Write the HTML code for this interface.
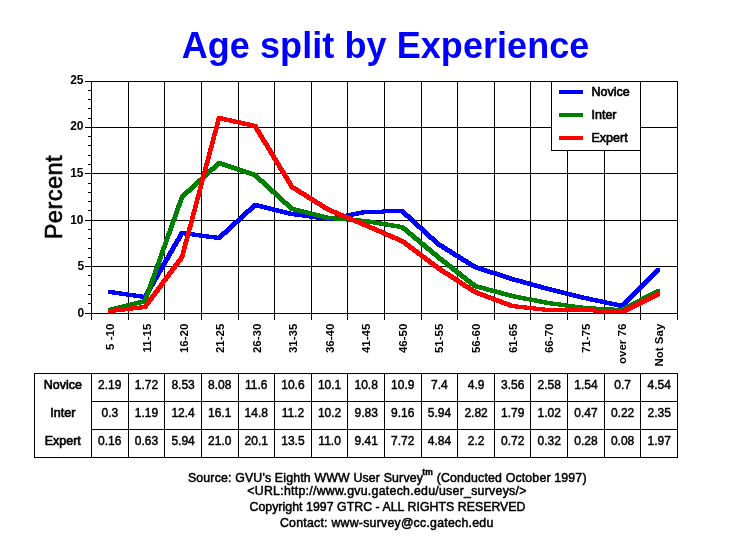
<!DOCTYPE html>
<html><head><meta charset="utf-8"><title>Age split by Experience</title>
<style>
html,body{margin:0;padding:0;background:#fff;}
svg{display:block;}
text{font-family:"Liberation Sans",Arial,sans-serif;fill:#000;}
.g{stroke:#000;stroke-width:1;shape-rendering:crispEdges;fill:none;}
.t{font-size:12px;text-anchor:middle;stroke:#000;stroke-width:0.45px;}
.tl{font-size:12.5px;text-anchor:middle;stroke:#000;stroke-width:0.65px;}
.x{font-size:11.5px;text-anchor:end;font-weight:bold;}
.y{font-size:12px;text-anchor:end;font-weight:bold;}
.lg{font-size:12.5px;stroke:#000;stroke-width:0.65px;}
.f{font-size:12.3px;text-anchor:middle;stroke:#000;stroke-width:0.5px;}
</style></head><body>
<svg width="729" height="553" viewBox="0 0 729 553">
<rect x="0" y="0" width="729" height="553" fill="#fff"/>
<text x="385.6" y="58" style="font-size:36px;font-weight:bold;fill:#00f;text-anchor:middle;letter-spacing:0.07px" id="title">Age split by Experience</text>
<path class="g" d="M91.5 81V320 M128.5 81V320 M164.5 81V320 M201.5 81V320 M238.5 81V320 M274.5 81V320 M311.5 81V320 M347.5 81V320 M384.5 81V320 M421.5 81V320 M457.5 81V320 M494.5 81V320 M530.5 81V320 M567.5 81V320 M604.5 81V320 M640.5 81V320 M677.5 81V320 M85 313.5H678 M85 266.5H678 M85 220.5H678 M85 173.5H678 M85 127.5H678 M85 81.5H678 M88 303.5H91 M88 294.5H91 M88 285.5H91 M88 275.5H91 M88 257.5H91 M88 248.5H91 M88 238.5H91 M88 229.5H91 M88 210.5H91 M88 201.5H91 M88 192.5H91 M88 183.5H91 M88 164.5H91 M88 155.5H91 M88 145.5H91 M88 136.5H91 M88 118.5H91 M88 108.5H91 M88 99.5H91 M88 90.5H91"/>
<path d="M253 203h6v1h-6zM252 204h11v1h-11zM251 205h16v1h-16zM250 206h21v1h-21zM249 207h26v1h-26zM248 208h7v1h-7zM260 208h19v1h-19zM246 209h8v1h-8zM264 209h19v1h-19zM382 209h22v1h-22zM245 210h8v1h-8zM268 210h19v1h-19zM361 210h44v1h-44zM244 211h8v1h-8zM272 211h19v1h-19zM356 211h50v1h-50zM243 212h8v1h-8zM276 212h21v1h-21zM351 212h56v1h-56zM242 213h7v1h-7zM280 213h25v1h-25zM346 213h39v1h-39zM401 213h7v1h-7zM241 214h7v1h-7zM284 214h28v1h-28zM340 214h24v1h-24zM402 214h8v1h-8zM240 215h7v1h-7zM288 215h31v1h-31zM335 215h24v1h-24zM403 215h8v1h-8zM239 216h7v1h-7zM294 216h33v1h-33zM330 216h24v1h-24zM404 216h8v1h-8zM238 217h7v1h-7zM302 217h47v1h-47zM405 217h8v1h-8zM237 218h7v1h-7zM309 218h34v1h-34zM407 218h7v1h-7zM236 219h7v1h-7zM316 219h22v1h-22zM408 219h7v1h-7zM234 220h8v1h-8zM324 220h9v1h-9zM409 220h7v1h-7zM233 221h8v1h-8zM410 221h7v1h-7zM232 222h8v1h-8zM411 222h7v1h-7zM231 223h8v1h-8zM412 223h7v1h-7zM230 224h7v1h-7zM413 224h7v1h-7zM229 225h7v1h-7zM414 225h8v1h-8zM228 226h7v1h-7zM415 226h8v1h-8zM227 227h7v1h-7zM416 227h8v1h-8zM226 228h7v1h-7zM417 228h8v1h-8zM225 229h7v1h-7zM419 229h7v1h-7zM224 230h7v1h-7zM420 230h7v1h-7zM180 231h7v1h-7zM222 231h8v1h-8zM421 231h7v1h-7zM179 232h16v1h-16zM221 232h8v1h-8zM422 232h7v1h-7zM179 233h23v1h-23zM220 233h8v1h-8zM423 233h7v1h-7zM178 234h31v1h-31zM219 234h8v1h-8zM424 234h7v1h-7zM178 235h5v1h-5zM184 235h33v1h-33zM218 235h7v1h-7zM425 235h7v1h-7zM177 236h6v1h-6zM192 236h32v1h-32zM426 236h8v1h-8zM177 237h5v1h-5zM199 237h24v1h-24zM427 237h8v1h-8zM176 238h6v1h-6zM206 238h16v1h-16zM428 238h8v1h-8zM175 239h6v1h-6zM214 239h7v1h-7zM429 239h8v1h-8zM175 240h6v1h-6zM431 240h7v1h-7zM174 241h6v1h-6zM432 241h7v1h-7zM174 242h5v1h-5zM433 242h7v1h-7zM173 243h6v1h-6zM434 243h8v1h-8zM172 244h6v1h-6zM435 244h9v1h-9zM172 245h6v1h-6zM436 245h9v1h-9zM171 246h6v1h-6zM437 246h10v1h-10zM171 247h5v1h-5zM439 247h9v1h-9zM170 248h6v1h-6zM441 248h9v1h-9zM170 249h5v1h-5zM442 249h10v1h-10zM169 250h6v1h-6zM444 250h9v1h-9zM168 251h6v1h-6zM445 251h10v1h-10zM168 252h6v1h-6zM447 252h9v1h-9zM167 253h6v1h-6zM449 253h9v1h-9zM167 254h5v1h-5zM450 254h10v1h-10zM166 255h6v1h-6zM452 255h9v1h-9zM166 256h5v1h-5zM453 256h10v1h-10zM165 257h6v1h-6zM455 257h9v1h-9zM164 258h6v1h-6zM457 258h9v1h-9zM164 259h6v1h-6zM458 259h10v1h-10zM163 260h6v1h-6zM460 260h9v1h-9zM163 261h5v1h-5zM461 261h10v1h-10zM162 262h6v1h-6zM463 262h9v1h-9zM161 263h6v1h-6zM465 263h9v1h-9zM161 264h6v1h-6zM466 264h10v1h-10zM160 265h6v1h-6zM468 265h10v1h-10zM160 266h5v1h-5zM469 266h12v1h-12zM159 267h6v1h-6zM471 267h13v1h-13zM159 268h5v1h-5zM473 268h14v1h-14zM656 268h4v1h-4zM158 269h6v1h-6zM475 269h15v1h-15zM655 269h5v1h-5zM157 270h6v1h-6zM478 270h15v1h-15zM654 270h6v1h-6zM157 271h6v1h-6zM481 271h16v1h-16zM653 271h7v1h-7zM156 272h6v1h-6zM484 272h16v1h-16zM652 272h7v1h-7zM156 273h5v1h-5zM487 273h16v1h-16zM651 273h7v1h-7zM155 274h6v1h-6zM490 274h16v1h-16zM650 274h7v1h-7zM155 275h5v1h-5zM494 275h15v1h-15zM649 275h7v1h-7zM154 276h6v1h-6zM497 276h15v1h-15zM648 276h7v1h-7zM153 277h6v1h-6zM500 277h15v1h-15zM647 277h7v1h-7zM153 278h6v1h-6zM503 278h16v1h-16zM646 278h7v1h-7zM152 279h6v1h-6zM506 279h17v1h-17zM645 279h7v1h-7zM152 280h5v1h-5zM509 280h17v1h-17zM644 280h7v1h-7zM151 281h6v1h-6zM512 281h18v1h-18zM643 281h7v1h-7zM151 282h5v1h-5zM516 282h17v1h-17zM642 282h7v1h-7zM150 283h6v1h-6zM520 283h17v1h-17zM641 283h7v1h-7zM149 284h6v1h-6zM523 284h18v1h-18zM640 284h7v1h-7zM149 285h6v1h-6zM527 285h17v1h-17zM639 285h7v1h-7zM148 286h6v1h-6zM530 286h18v1h-18zM638 286h7v1h-7zM148 287h5v1h-5zM534 287h18v1h-18zM637 287h7v1h-7zM147 288h6v1h-6zM538 288h18v1h-18zM636 288h7v1h-7zM146 289h6v1h-6zM541 289h19v1h-19zM635 289h7v1h-7zM108 290h7v1h-7zM146 290h6v1h-6zM545 290h19v1h-19zM634 290h7v1h-7zM108 291h14v1h-14zM145 291h6v1h-6zM549 291h19v1h-19zM633 291h7v1h-7zM108 292h21v1h-21zM145 292h5v1h-5zM553 292h19v1h-19zM632 292h7v1h-7zM108 293h28v1h-28zM144 293h6v1h-6zM557 293h19v1h-19zM631 293h7v1h-7zM112 294h31v1h-31zM144 294h5v1h-5zM561 294h19v1h-19zM630 294h7v1h-7zM119 295h30v1h-30zM565 295h19v1h-19zM629 295h7v1h-7zM126 296h22v1h-22zM569 296h20v1h-20zM628 296h7v1h-7zM133 297h15v1h-15zM573 297h20v1h-20zM627 297h7v1h-7zM140 298h7v1h-7zM577 298h21v1h-21zM626 298h7v1h-7zM581 299h22v1h-22zM625 299h7v1h-7zM586 300h21v1h-21zM624 300h7v1h-7zM590 301h22v1h-22zM623 301h7v1h-7zM595 302h22v1h-22zM622 302h7v1h-7zM600 303h28v1h-28zM604 304h23v1h-23zM609 305h17v1h-17zM614 306h11v1h-11zM618 307h6v1h-6z" fill="#00f" shape-rendering="crispEdges"/>
<path d="M217 161h5v1h-5zM216 162h9v1h-9zM215 163h13v1h-13zM214 164h17v1h-17zM213 165h21v1h-21zM212 166h7v1h-7zM222 166h15v1h-15zM210 167h8v1h-8zM225 167h15v1h-15zM209 168h8v1h-8zM228 168h15v1h-15zM208 169h8v1h-8zM231 169h15v1h-15zM207 170h8v1h-8zM234 170h15v1h-15zM206 171h7v1h-7zM237 171h15v1h-15zM205 172h7v1h-7zM240 172h15v1h-15zM204 173h7v1h-7zM243 173h14v1h-14zM203 174h7v1h-7zM246 174h12v1h-12zM202 175h7v1h-7zM249 175h10v1h-10zM201 176h7v1h-7zM252 176h8v1h-8zM200 177h7v1h-7zM254 177h7v1h-7zM198 178h8v1h-8zM255 178h7v1h-7zM197 179h8v1h-8zM256 179h8v1h-8zM196 180h8v1h-8zM257 180h8v1h-8zM195 181h8v1h-8zM258 181h8v1h-8zM194 182h7v1h-7zM259 182h8v1h-8zM193 183h7v1h-7zM261 183h7v1h-7zM192 184h7v1h-7zM262 184h7v1h-7zM191 185h7v1h-7zM263 185h7v1h-7zM190 186h7v1h-7zM264 186h7v1h-7zM189 187h7v1h-7zM265 187h7v1h-7zM188 188h7v1h-7zM266 188h7v1h-7zM186 189h8v1h-8zM267 189h7v1h-7zM185 190h8v1h-8zM268 190h8v1h-8zM184 191h8v1h-8zM269 191h8v1h-8zM183 192h8v1h-8zM270 192h8v1h-8zM182 193h7v1h-7zM271 193h8v1h-8zM181 194h7v1h-7zM273 194h7v1h-7zM180 195h7v1h-7zM274 195h7v1h-7zM180 196h6v1h-6zM275 196h7v1h-7zM179 197h6v1h-6zM276 197h7v1h-7zM179 198h5v1h-5zM277 198h7v1h-7zM179 199h5v1h-5zM278 199h7v1h-7zM178 200h5v1h-5zM279 200h7v1h-7zM178 201h5v1h-5zM280 201h8v1h-8zM178 202h5v1h-5zM281 202h8v1h-8zM177 203h5v1h-5zM282 203h8v1h-8zM177 204h5v1h-5zM283 204h8v1h-8zM176 205h6v1h-6zM285 205h7v1h-7zM176 206h5v1h-5zM286 206h7v1h-7zM176 207h5v1h-5zM287 207h9v1h-9zM175 208h5v1h-5zM288 208h12v1h-12zM175 209h5v1h-5zM289 209h15v1h-15zM175 210h5v1h-5zM290 210h18v1h-18zM174 211h5v1h-5zM293 211h19v1h-19zM174 212h5v1h-5zM297 212h19v1h-19zM174 213h5v1h-5zM301 213h19v1h-19zM173 214h5v1h-5zM305 214h19v1h-19zM173 215h5v1h-5zM309 215h19v1h-19zM173 216h5v1h-5zM313 216h24v1h-24zM172 217h5v1h-5zM317 217h32v1h-32zM172 218h5v1h-5zM321 218h40v1h-40zM171 219h6v1h-6zM325 219h45v1h-45zM171 220h5v1h-5zM334 220h42v1h-42zM171 221h5v1h-5zM346 221h36v1h-36zM170 222h5v1h-5zM358 222h30v1h-30zM170 223h5v1h-5zM367 223h27v1h-27zM170 224h5v1h-5zM373 224h27v1h-27zM169 225h5v1h-5zM379 225h25v1h-25zM169 226h5v1h-5zM385 226h20v1h-20zM169 227h5v1h-5zM391 227h16v1h-16zM168 228h5v1h-5zM397 228h11v1h-11zM168 229h5v1h-5zM401 229h8v1h-8zM168 230h5v1h-5zM402 230h8v1h-8zM167 231h5v1h-5zM404 231h7v1h-7zM167 232h5v1h-5zM405 232h8v1h-8zM166 233h6v1h-6zM406 233h8v1h-8zM166 234h5v1h-5zM407 234h8v1h-8zM166 235h5v1h-5zM408 235h8v1h-8zM165 236h5v1h-5zM410 236h7v1h-7zM165 237h5v1h-5zM411 237h8v1h-8zM165 238h5v1h-5zM412 238h8v1h-8zM164 239h5v1h-5zM413 239h8v1h-8zM164 240h5v1h-5zM414 240h8v1h-8zM164 241h5v1h-5zM416 241h7v1h-7zM163 242h5v1h-5zM417 242h8v1h-8zM163 243h5v1h-5zM418 243h8v1h-8zM163 244h5v1h-5zM419 244h8v1h-8zM162 245h5v1h-5zM420 245h8v1h-8zM162 246h5v1h-5zM422 246h7v1h-7zM161 247h6v1h-6zM423 247h8v1h-8zM161 248h5v1h-5zM424 248h8v1h-8zM161 249h5v1h-5zM425 249h8v1h-8zM160 250h5v1h-5zM426 250h8v1h-8zM160 251h5v1h-5zM428 251h7v1h-7zM160 252h5v1h-5zM429 252h8v1h-8zM159 253h5v1h-5zM430 253h8v1h-8zM159 254h5v1h-5zM431 254h8v1h-8zM159 255h5v1h-5zM432 255h8v1h-8zM158 256h5v1h-5zM434 256h7v1h-7zM158 257h5v1h-5zM435 257h8v1h-8zM158 258h5v1h-5zM436 258h8v1h-8zM157 259h5v1h-5zM437 259h8v1h-8zM157 260h5v1h-5zM438 260h9v1h-9zM157 261h5v1h-5zM440 261h8v1h-8zM156 262h5v1h-5zM441 262h8v1h-8zM156 263h5v1h-5zM442 263h8v1h-8zM155 264h6v1h-6zM444 264h8v1h-8zM155 265h5v1h-5zM445 265h8v1h-8zM155 266h5v1h-5zM446 266h8v1h-8zM154 267h5v1h-5zM447 267h8v1h-8zM154 268h5v1h-5zM449 268h8v1h-8zM154 269h5v1h-5zM450 269h8v1h-8zM153 270h5v1h-5zM451 270h8v1h-8zM153 271h5v1h-5zM452 271h9v1h-9zM153 272h5v1h-5zM454 272h8v1h-8zM152 273h5v1h-5zM455 273h8v1h-8zM152 274h5v1h-5zM456 274h8v1h-8zM152 275h5v1h-5zM458 275h8v1h-8zM151 276h5v1h-5zM459 276h8v1h-8zM151 277h5v1h-5zM460 277h8v1h-8zM150 278h6v1h-6zM461 278h8v1h-8zM150 279h5v1h-5zM463 279h8v1h-8zM150 280h5v1h-5zM464 280h8v1h-8zM149 281h5v1h-5zM465 281h8v1h-8zM149 282h5v1h-5zM466 282h9v1h-9zM149 283h5v1h-5zM468 283h8v1h-8zM148 284h5v1h-5zM469 284h9v1h-9zM148 285h5v1h-5zM470 285h12v1h-12zM148 286h5v1h-5zM472 286h14v1h-14zM147 287h5v1h-5zM473 287h16v1h-16zM147 288h5v1h-5zM475 288h18v1h-18zM147 289h5v1h-5zM479 289h18v1h-18zM656 289h4v1h-4zM146 290h5v1h-5zM483 290h18v1h-18zM654 290h6v1h-6zM146 291h5v1h-5zM486 291h18v1h-18zM652 291h8v1h-8zM145 292h6v1h-6zM490 292h18v1h-18zM650 292h10v1h-10zM145 293h5v1h-5zM494 293h18v1h-18zM648 293h11v1h-11zM145 294h5v1h-5zM498 294h18v1h-18zM646 294h11v1h-11zM144 295h5v1h-5zM501 295h20v1h-20zM644 295h11v1h-11zM144 296h5v1h-5zM505 296h21v1h-21zM642 296h11v1h-11zM144 297h5v1h-5zM509 297h23v1h-23zM640 297h11v1h-11zM143 298h5v1h-5zM513 298h24v1h-24zM639 298h10v1h-10zM142 299h6v1h-6zM518 299h24v1h-24zM637 299h10v1h-10zM138 300h10v1h-10zM523 300h24v1h-24zM635 300h10v1h-10zM134 301h13v1h-13zM529 301h24v1h-24zM633 301h10v1h-10zM130 302h17v1h-17zM534 302h27v1h-27zM631 302h11v1h-11zM126 303h19v1h-19zM539 303h29v1h-29zM629 303h11v1h-11zM122 304h19v1h-19zM544 304h31v1h-31zM627 304h11v1h-11zM118 305h19v1h-19zM550 305h33v1h-33zM625 305h11v1h-11zM114 306h19v1h-19zM558 306h38v1h-38zM623 306h11v1h-11zM110 307h19v1h-19zM565 307h49v1h-49zM621 307h11v1h-11zM108 308h17v1h-17zM572 308h58v1h-58zM108 309h13v1h-13zM580 309h48v1h-48zM108 310h9v1h-9zM593 310h33v1h-33zM108 311h5v1h-5zM611 311h13v1h-13z" fill="#008000" shape-rendering="crispEdges"/>
<path d="M217 116h6v1h-6zM217 117h10v1h-10zM216 118h16v1h-16zM216 119h20v1h-20zM216 120h25v1h-25zM216 121h4v1h-4zM224 121h21v1h-21zM215 122h5v1h-5zM229 122h21v1h-21zM215 123h5v1h-5zM233 123h21v1h-21zM215 124h5v1h-5zM238 124h19v1h-19zM215 125h4v1h-4zM242 125h16v1h-16zM214 126h5v1h-5zM247 126h11v1h-11zM214 127h5v1h-5zM251 127h8v1h-8zM214 128h5v1h-5zM254 128h5v1h-5zM214 129h4v1h-4zM254 129h6v1h-6zM213 130h5v1h-5zM255 130h6v1h-6zM213 131h5v1h-5zM255 131h6v1h-6zM213 132h5v1h-5zM256 132h6v1h-6zM212 133h5v1h-5zM257 133h5v1h-5zM212 134h5v1h-5zM257 134h6v1h-6zM212 135h5v1h-5zM258 135h6v1h-6zM212 136h4v1h-4zM258 136h6v1h-6zM211 137h5v1h-5zM259 137h6v1h-6zM211 138h5v1h-5zM260 138h5v1h-5zM211 139h5v1h-5zM260 139h6v1h-6zM211 140h4v1h-4zM261 140h6v1h-6zM210 141h5v1h-5zM261 141h6v1h-6zM210 142h5v1h-5zM262 142h6v1h-6zM210 143h5v1h-5zM263 143h6v1h-6zM210 144h4v1h-4zM263 144h6v1h-6zM209 145h5v1h-5zM264 145h6v1h-6zM209 146h5v1h-5zM265 146h5v1h-5zM209 147h5v1h-5zM265 147h6v1h-6zM208 148h5v1h-5zM266 148h6v1h-6zM208 149h5v1h-5zM266 149h6v1h-6zM208 150h5v1h-5zM267 150h6v1h-6zM208 151h4v1h-4zM268 151h5v1h-5zM207 152h5v1h-5zM268 152h6v1h-6zM207 153h5v1h-5zM269 153h6v1h-6zM207 154h5v1h-5zM269 154h6v1h-6zM207 155h4v1h-4zM270 155h6v1h-6zM206 156h5v1h-5zM271 156h5v1h-5zM206 157h5v1h-5zM271 157h6v1h-6zM206 158h5v1h-5zM272 158h6v1h-6zM206 159h4v1h-4zM272 159h6v1h-6zM205 160h5v1h-5zM273 160h6v1h-6zM205 161h5v1h-5zM274 161h5v1h-5zM205 162h5v1h-5zM274 162h6v1h-6zM204 163h5v1h-5zM275 163h6v1h-6zM204 164h5v1h-5zM275 164h6v1h-6zM204 165h5v1h-5zM276 165h6v1h-6zM204 166h4v1h-4zM277 166h5v1h-5zM203 167h5v1h-5zM277 167h6v1h-6zM203 168h5v1h-5zM278 168h6v1h-6zM203 169h5v1h-5zM278 169h6v1h-6zM203 170h4v1h-4zM279 170h6v1h-6zM202 171h5v1h-5zM280 171h6v1h-6zM202 172h5v1h-5zM280 172h6v1h-6zM202 173h5v1h-5zM281 173h6v1h-6zM202 174h4v1h-4zM282 174h5v1h-5zM201 175h5v1h-5zM282 175h6v1h-6zM201 176h5v1h-5zM283 176h6v1h-6zM201 177h5v1h-5zM283 177h6v1h-6zM200 178h5v1h-5zM284 178h6v1h-6zM200 179h5v1h-5zM285 179h5v1h-5zM200 180h5v1h-5zM285 180h6v1h-6zM200 181h4v1h-4zM286 181h6v1h-6zM199 182h5v1h-5zM286 182h6v1h-6zM199 183h5v1h-5zM287 183h6v1h-6zM199 184h5v1h-5zM288 184h5v1h-5zM199 185h4v1h-4zM288 185h6v1h-6zM198 186h5v1h-5zM289 186h7v1h-7zM198 187h5v1h-5zM289 187h9v1h-9zM198 188h5v1h-5zM290 188h9v1h-9zM198 189h4v1h-4zM291 189h10v1h-10zM197 190h5v1h-5zM293 190h9v1h-9zM197 191h5v1h-5zM295 191h9v1h-9zM197 192h5v1h-5zM296 192h10v1h-10zM197 193h4v1h-4zM298 193h9v1h-9zM196 194h5v1h-5zM299 194h10v1h-10zM196 195h5v1h-5zM301 195h9v1h-9zM196 196h5v1h-5zM303 196h9v1h-9zM195 197h5v1h-5zM304 197h10v1h-10zM195 198h5v1h-5zM306 198h9v1h-9zM195 199h5v1h-5zM307 199h10v1h-10zM195 200h4v1h-4zM309 200h9v1h-9zM194 201h5v1h-5zM311 201h9v1h-9zM194 202h5v1h-5zM312 202h10v1h-10zM194 203h5v1h-5zM314 203h9v1h-9zM194 204h4v1h-4zM315 204h10v1h-10zM193 205h5v1h-5zM317 205h9v1h-9zM193 206h5v1h-5zM319 206h9v1h-9zM193 207h5v1h-5zM320 207h10v1h-10zM193 208h4v1h-4zM322 208h10v1h-10zM192 209h5v1h-5zM323 209h11v1h-11zM192 210h5v1h-5zM325 210h12v1h-12zM192 211h5v1h-5zM327 211h12v1h-12zM191 212h5v1h-5zM329 212h12v1h-12zM191 213h5v1h-5zM331 213h13v1h-13zM191 214h5v1h-5zM334 214h12v1h-12zM191 215h4v1h-4zM336 215h13v1h-13zM190 216h5v1h-5zM338 216h13v1h-13zM190 217h5v1h-5zM341 217h12v1h-12zM190 218h5v1h-5zM343 218h13v1h-13zM190 219h4v1h-4zM346 219h12v1h-12zM189 220h5v1h-5zM348 220h13v1h-13zM189 221h5v1h-5zM350 221h13v1h-13zM189 222h5v1h-5zM353 222h12v1h-12zM189 223h4v1h-4zM355 223h13v1h-13zM188 224h5v1h-5zM358 224h12v1h-12zM188 225h5v1h-5zM360 225h12v1h-12zM188 226h5v1h-5zM362 226h13v1h-13zM187 227h5v1h-5zM365 227h12v1h-12zM187 228h5v1h-5zM367 228h12v1h-12zM187 229h5v1h-5zM369 229h13v1h-13zM187 230h4v1h-4zM372 230h12v1h-12zM186 231h5v1h-5zM374 231h12v1h-12zM186 232h5v1h-5zM376 232h12v1h-12zM186 233h5v1h-5zM379 233h12v1h-12zM186 234h4v1h-4zM381 234h12v1h-12zM185 235h5v1h-5zM383 235h12v1h-12zM185 236h5v1h-5zM385 236h13v1h-13zM185 237h5v1h-5zM388 237h12v1h-12zM185 238h4v1h-4zM390 238h12v1h-12zM184 239h5v1h-5zM392 239h12v1h-12zM184 240h5v1h-5zM395 240h11v1h-11zM184 241h5v1h-5zM397 241h10v1h-10zM183 242h5v1h-5zM399 242h9v1h-9zM183 243h5v1h-5zM401 243h9v1h-9zM183 244h5v1h-5zM403 244h8v1h-8zM183 245h4v1h-4zM404 245h8v1h-8zM182 246h5v1h-5zM405 246h9v1h-9zM182 247h5v1h-5zM407 247h8v1h-8zM182 248h5v1h-5zM408 248h8v1h-8zM182 249h4v1h-4zM409 249h9v1h-9zM181 250h5v1h-5zM411 250h8v1h-8zM181 251h5v1h-5zM412 251h8v1h-8zM181 252h5v1h-5zM413 252h9v1h-9zM181 253h4v1h-4zM415 253h8v1h-8zM180 254h5v1h-5zM416 254h8v1h-8zM180 255h5v1h-5zM417 255h9v1h-9zM179 256h6v1h-6zM419 256h8v1h-8zM179 257h5v1h-5zM420 257h8v1h-8zM178 258h6v1h-6zM421 258h9v1h-9zM177 259h6v1h-6zM423 259h8v1h-8zM176 260h7v1h-7zM424 260h8v1h-8zM176 261h6v1h-6zM425 261h9v1h-9zM175 262h6v1h-6zM427 262h8v1h-8zM174 263h6v1h-6zM428 263h8v1h-8zM173 264h7v1h-7zM429 264h9v1h-9zM173 265h6v1h-6zM431 265h8v1h-8zM172 266h6v1h-6zM432 266h8v1h-8zM171 267h6v1h-6zM433 267h9v1h-9zM170 268h7v1h-7zM435 268h8v1h-8zM170 269h6v1h-6zM436 269h9v1h-9zM169 270h6v1h-6zM437 270h9v1h-9zM168 271h6v1h-6zM439 271h9v1h-9zM167 272h7v1h-7zM440 272h10v1h-10zM167 273h6v1h-6zM442 273h9v1h-9zM166 274h6v1h-6zM443 274h10v1h-10zM165 275h6v1h-6zM445 275h9v1h-9zM164 276h7v1h-7zM447 276h9v1h-9zM164 277h6v1h-6zM448 277h9v1h-9zM163 278h6v1h-6zM450 278h9v1h-9zM162 279h6v1h-6zM451 279h9v1h-9zM161 280h7v1h-7zM453 280h9v1h-9zM161 281h6v1h-6zM454 281h9v1h-9zM160 282h6v1h-6zM456 282h9v1h-9zM159 283h6v1h-6zM457 283h9v1h-9zM159 284h6v1h-6zM459 284h9v1h-9zM158 285h6v1h-6zM460 285h10v1h-10zM157 286h6v1h-6zM462 286h9v1h-9zM156 287h7v1h-7zM463 287h10v1h-10zM156 288h6v1h-6zM465 288h9v1h-9zM155 289h6v1h-6zM467 289h9v1h-9zM154 290h6v1h-6zM468 290h10v1h-10zM153 291h7v1h-7zM470 291h10v1h-10zM153 292h6v1h-6zM471 292h12v1h-12zM656 292h4v1h-4zM152 293h6v1h-6zM473 293h13v1h-13zM654 293h6v1h-6zM151 294h6v1h-6zM475 294h13v1h-13zM652 294h8v1h-8zM150 295h7v1h-7zM477 295h14v1h-14zM650 295h10v1h-10zM150 296h6v1h-6zM480 296h14v1h-14zM648 296h11v1h-11zM149 297h6v1h-6zM483 297h13v1h-13zM646 297h11v1h-11zM148 298h6v1h-6zM485 298h14v1h-14zM644 298h11v1h-11zM147 299h7v1h-7zM488 299h14v1h-14zM642 299h11v1h-11zM147 300h6v1h-6zM491 300h13v1h-13zM640 300h11v1h-11zM146 301h6v1h-6zM493 301h14v1h-14zM638 301h11v1h-11zM145 302h6v1h-6zM496 302h14v1h-14zM636 302h11v1h-11zM144 303h7v1h-7zM499 303h13v1h-13zM634 303h11v1h-11zM144 304h6v1h-6zM501 304h17v1h-17zM632 304h11v1h-11zM139 305h10v1h-10zM504 305h23v1h-23zM630 305h11v1h-11zM130 306h18v1h-18zM507 306h29v1h-29zM628 306h11v1h-11zM122 307h26v1h-26zM509 307h36v1h-36zM626 307h11v1h-11zM113 308h34v1h-34zM515 308h81v1h-81zM624 308h11v1h-11zM108 309h34v1h-34zM524 309h90v1h-90zM622 309h11v1h-11zM108 310h25v1h-25zM533 310h98v1h-98zM108 311h17v1h-17zM542 311h87v1h-87zM108 312h8v1h-8zM593 312h34v1h-34z" fill="#f00" shape-rendering="crispEdges"/>
<rect class="g" x="551.5" y="81.5" width="89" height="69" style="fill:#fff"/>
<rect x="559" y="90" width="24" height="4" fill="#00f"/><text class="lg" x="591.5" y="96">Novice</text>
<rect x="559" y="113" width="24" height="4" fill="#008000"/><text class="lg" x="591.5" y="119">Inter</text>
<rect x="559" y="136" width="24" height="4" fill="#f00"/><text class="lg" x="591.5" y="142">Expert</text>
<text class="y" x="84.3" y="316.9">0</text><text class="y" x="84.3" y="269.9">5</text><text class="y" x="83.5" y="223.9">10</text><text class="y" x="83.5" y="176.9">15</text><text class="y" x="83.5" y="130.3">20</text><text class="y" x="83.5" y="84.3">25</text>
<text transform="translate(61.8,197.1) rotate(-90)" style="font-size:23.6px;letter-spacing:0.45px;text-anchor:middle;stroke:#000;stroke-width:0.6px">Percent</text>
<text class="x" transform="translate(114.4,323.7) rotate(-90)">5 -10</text><text class="x" transform="translate(151.0,323.7) rotate(-90)">11-15</text><text class="x" transform="translate(187.5,323.7) rotate(-90)">16-20</text><text class="x" transform="translate(224.1,323.7) rotate(-90)">21-25</text><text class="x" transform="translate(260.6,323.7) rotate(-90)">26-30</text><text class="x" transform="translate(297.2,323.7) rotate(-90)">31-35</text><text class="x" transform="translate(333.8,323.7) rotate(-90)">36-40</text><text class="x" transform="translate(370.3,323.7) rotate(-90)">41-45</text><text class="x" transform="translate(406.9,323.7) rotate(-90)">46-50</text><text class="x" transform="translate(443.4,323.7) rotate(-90)">51-55</text><text class="x" transform="translate(480.0,323.7) rotate(-90)">56-60</text><text class="x" transform="translate(516.6,323.7) rotate(-90)">61-65</text><text class="x" transform="translate(553.1,323.7) rotate(-90)">66-70</text><text class="x" transform="translate(589.7,323.7) rotate(-90)">71-75</text><text class="x" transform="translate(626.2,323.7) rotate(-90)">over 76</text><text class="x" transform="translate(662.8,323.7) rotate(-90)">Not Say</text>
<path class="g" d="M34.5 373.5H677.5V457.5H34.5Z M91.5 373V457 M128.5 373V457 M164.5 373V457 M201.5 373V457 M238.5 373V457 M274.5 373V457 M311.5 373V457 M347.5 373V457 M384.5 373V457 M421.5 373V457 M457.5 373V457 M494.5 373V457 M530.5 373V457 M567.5 373V457 M604.5 373V457 M640.5 373V457 M91 401.5H677 M91 429.5H677"/>
<text class="tl" x="62.8" y="388.8">Novice</text><text class="t" x="109.8" y="388.8">2.19</text><text class="t" x="146.4" y="388.8">1.72</text><text class="t" x="183.1" y="388.8">8.53</text><text class="t" x="219.7" y="388.8">8.08</text><text class="t" x="256.3" y="388.8">11.6</text><text class="t" x="292.9" y="388.8">10.6</text><text class="t" x="329.6" y="388.8">10.1</text><text class="t" x="366.2" y="388.8">10.8</text><text class="t" x="402.8" y="388.8">10.9</text><text class="t" x="439.4" y="388.8">7.4</text><text class="t" x="476.1" y="388.8">4.9</text><text class="t" x="512.7" y="388.8">3.56</text><text class="t" x="549.3" y="388.8">2.58</text><text class="t" x="585.9" y="388.8">1.54</text><text class="t" x="622.6" y="388.8">0.7</text><text class="t" x="659.2" y="388.8">4.54</text>
<text class="tl" x="62.8" y="416.8">Inter</text><text class="t" x="109.8" y="416.8">0.3</text><text class="t" x="146.4" y="416.8">1.19</text><text class="t" x="183.1" y="416.8">12.4</text><text class="t" x="219.7" y="416.8">16.1</text><text class="t" x="256.3" y="416.8">14.8</text><text class="t" x="292.9" y="416.8">11.2</text><text class="t" x="329.6" y="416.8">10.2</text><text class="t" x="366.2" y="416.8">9.83</text><text class="t" x="402.8" y="416.8">9.16</text><text class="t" x="439.4" y="416.8">5.94</text><text class="t" x="476.1" y="416.8">2.82</text><text class="t" x="512.7" y="416.8">1.79</text><text class="t" x="549.3" y="416.8">1.02</text><text class="t" x="585.9" y="416.8">0.47</text><text class="t" x="622.6" y="416.8">0.22</text><text class="t" x="659.2" y="416.8">2.35</text>
<text class="tl" x="62.8" y="444.8">Expert</text><text class="t" x="109.8" y="444.8">0.16</text><text class="t" x="146.4" y="444.8">0.63</text><text class="t" x="183.1" y="444.8">5.94</text><text class="t" x="219.7" y="444.8">21.0</text><text class="t" x="256.3" y="444.8">20.1</text><text class="t" x="292.9" y="444.8">13.5</text><text class="t" x="329.6" y="444.8">11.0</text><text class="t" x="366.2" y="444.8">9.41</text><text class="t" x="402.8" y="444.8">7.72</text><text class="t" x="439.4" y="444.8">4.84</text><text class="t" x="476.1" y="444.8">2.2</text><text class="t" x="512.7" y="444.8">0.72</text><text class="t" x="549.3" y="444.8">0.32</text><text class="t" x="585.9" y="444.8">0.28</text><text class="t" x="622.6" y="444.8">0.08</text><text class="t" x="659.2" y="444.8">1.97</text>
<text class="f" x="387.3" y="481.5" style="letter-spacing:0.184px">Source: GVU's Eighth WWW User Survey<tspan dy="-7" dx="-0.8" style="font-size:8.5px;font-weight:bold;stroke-width:0.4px">tm</tspan><tspan dy="7"> (Conducted October 1997)</tspan></text>
<text class="f" x="387" y="495" style="letter-spacing:0.286px">&lt;URL:http://www.gvu.gatech.edu/user_surveys/&gt;</text>
<text class="f" x="387.5" y="510.5" style="letter-spacing:0.05px">Copyright 1997 GTRC - ALL RIGHTS RESERVED</text>
<text class="f" x="386.7" y="526.5" style="letter-spacing:0.253px">Contact: www-survey@cc.gatech.edu</text>
</svg>
</body></html>
